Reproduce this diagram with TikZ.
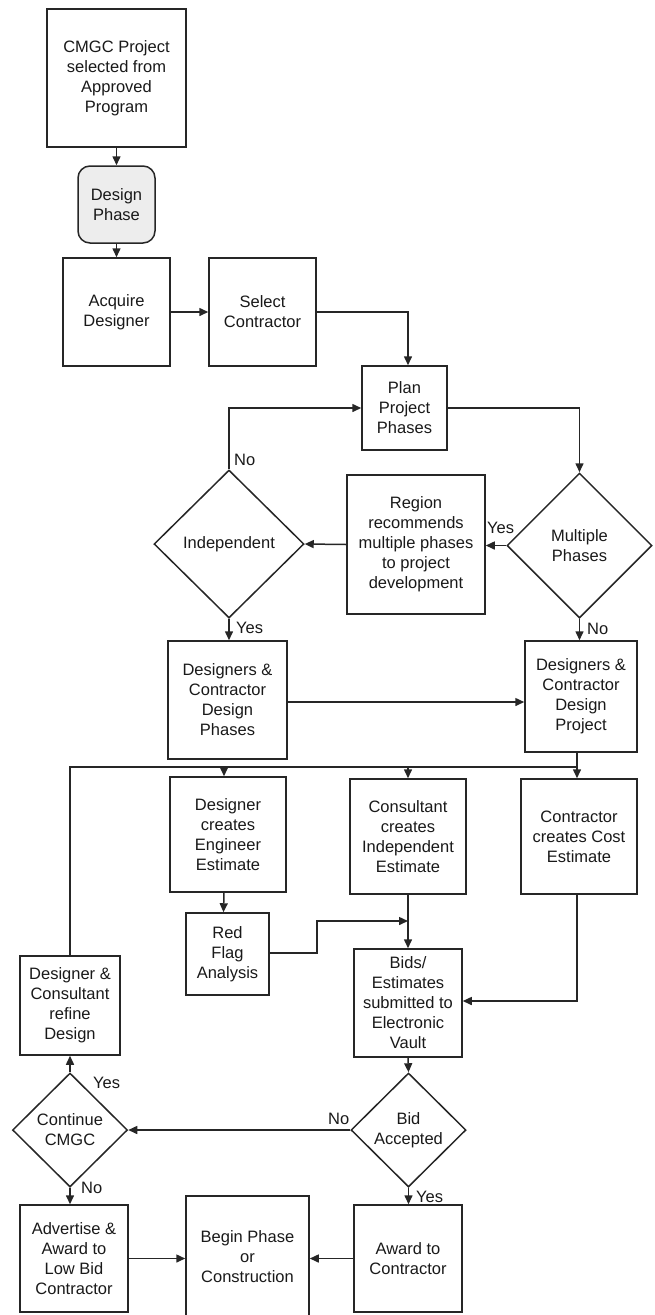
\documentclass[tikz,border=0pt]{standalone}
\usepackage{fontspec}
\setmainfont{Liberation Sans}
\usetikzlibrary{arrows.meta,shapes.geometric,calc}
\begin{document}
\begin{tikzpicture}[x=1pt,y=-1pt,
  font=\fontsize{16.5}{20}\selectfont,
  every node/.style={text=black!90},
  box/.style={draw=black!85, line width=1.5pt, align=center, inner sep=0pt},
  phase/.style={box, rounded corners=12pt, fill=black!7},
  decision/.style={draw=black!85, line width=1.5pt, diamond, aspect=1, align=center, inner sep=0pt},
  flow/.style={draw=black!85, line width=1.5pt, -{Triangle[length=9pt,width=8pt]}},
  wire/.style={draw=black!85, line width=1.5pt},
  lbl/.style={anchor=west, inner sep=0pt}]
\useasboundingbox (0,0) rectangle (654,1315);
\clip (0,0) rectangle (654,1315);

% ---- design stage ----
\node[box, minimum width=139pt, minimum height=138pt] (start) at (116.5,78)
  {CMGC Project\\selected from\\Approved\\Program};
\node[phase, minimum width=77pt, minimum height=77pt] (design) at (116.5,204.5)
  {Design\\Phase};
\node[box, minimum width=107pt, minimum height=108pt] (acquire) at (116.5,312)
  {Acquire\\Designer};
\node[box, minimum width=107pt, minimum height=108pt] (select) at (262.5,312)
  {Select\\Contractor};
\node[box, minimum width=85pt, minimum height=84pt] (plan) at (404.5,408)
  {Plan\\Project\\Phases};

% ---- phasing decisions ----
\node[decision, minimum width=145pt, minimum height=145pt] (multiple) at (579.5,545.5)
  {Multiple\\Phases};
\node[box, minimum width=138pt, minimum height=139pt] (region) at (416,544.5)
  {Region\\recommends\\multiple phases\\to project\\development};
\node[decision, minimum width=150pt, minimum height=148pt] (indep) at (229,544)
  {Independent};

\node[box, minimum width=119pt, minimum height=118pt] (dphases) at (227.5,700)
  {Designers \&\\Contractor\\Design\\Phases};
\node[box, minimum width=112pt, minimum height=111pt] (dproject) at (581,696.5)
  {Designers \&\\Contractor\\Design\\Project};

% ---- estimates ----
\node[box, minimum width=116pt, minimum height=115pt] (engest) at (228,834.5)
  {Designer\\creates\\Engineer\\Estimate};
\node[box, minimum width=116pt, minimum height=115pt] (indest) at (408,836.5)
  {Consultant\\creates\\Independent\\Estimate};
\node[box, minimum width=116pt, minimum height=115pt] (costest) at (579,836.5)
  {Contractor\\creates Cost\\Estimate};
\node[box, minimum width=83pt, minimum height=82pt] (redflag) at (227.5,954)
  {Red\\Flag\\Analysis};
\node[box, minimum width=108pt, minimum height=108pt] (vault) at (408,1003)
  {Bids/\\Estimates\\submitted to\\Electronic\\Vault};
\node[box, minimum width=100pt, minimum height=99pt] (refine) at (70,1005.5)
  {Designer \&\\Consultant\\refine\\Design};

% ---- award ----
\node[decision, minimum width=115pt, minimum height=114pt] (bidacc) at (408.5,1130)
  {Bid\\Accepted};
\node[decision, minimum width=115pt, minimum height=114pt] (cont) at (70,1130)
  {Continue\\CMGC};
\node[box, minimum width=108pt, minimum height=107pt] (advert) at (74,1258.5)
  {Advertise \&\\Award to\\Low Bid\\Contractor};
\node[box, minimum width=123pt, minimum height=122pt] (begin) at (247.5,1257)
  {Begin Phase\\or\\Construction};
\node[box, minimum width=108pt, minimum height=107pt] (award) at (408,1258.5)
  {Award to\\Contractor};

% ---- connectors ----
\draw[flow] (start) -- (design);
\draw[flow] (design) -- (acquire);
\draw[flow] (acquire) -- (select);
\draw[flow] (select.east) -| ([xshift=3.5pt]plan.north);
\draw[flow] (plan.east) -| (multiple.north);
\draw[flow] (multiple.west) -- (region.east |- multiple.west);
\draw[flow] (region.west) -- (indep.east);
\draw[flow] (indep.north) |- (plan.west);
\draw[flow] (indep.south) -- (indep.south |- dphases.north);
\draw[flow] (multiple.south) -- (multiple.south |- dproject.north);
\draw[flow] ([yshift=-2pt]dphases.east) -- ([yshift=-2pt]dphases.east -| dproject.west);

% distribution line feeding the three estimates
\coordinate (busR) at (577,767);
\coordinate (busL) at (70,767);
\draw[wire] ([xshift=-4pt]dproject.south) -- (busR);
\draw[wire] (refine.north) -- (busL) -- (busR);
\draw[flow] (busR) -- (busR |- costest.north);
\draw[flow] (busL -| indest.north) -- (indest.north);
\draw[flow] (busL -| engest.north) ++(-4pt,0) coordinate (engtop) -- (engtop |- engest.north);

\draw[flow] ([xshift=-4pt]engest.south) -- ([xshift=-4pt]redflag.north);
\coordinate (join) at (408,921);
\draw[flow] ([yshift=1pt]redflag.east) -- ++(47pt,0) |- (join);
\draw[flow] (indest.south) -- (vault.north);
\draw[flow] (busR |- costest.south) |- ([yshift=2pt]vault.east);
\draw[flow] (vault.south) -- (bidacc.north);
\draw[flow] (bidacc.west) -- (cont.east);
\draw[flow] (cont.north) -- (refine.south);
\draw[flow] (cont.south) -- (cont.south |- advert.north);
\draw[flow] (bidacc.south) -- (bidacc.south |- award.north);
\draw[flow] (advert.east) -- (advert.east -| begin.west);
\draw[flow] (award.west) -- (award.west -| begin.east);

% ---- branch labels ----
\node[lbl] at (234,460) {No};
\node[lbl] at (487,528) {Yes};
\node[lbl] at (236,628) {Yes};
\node[lbl] at (587,629) {No};
\node[lbl] at (93,1083) {Yes};
\node[lbl] at (328,1119) {No};
\node[lbl] at (81,1188) {No};
\node[lbl] at (416,1197) {Yes};
\end{tikzpicture}
\end{document}
